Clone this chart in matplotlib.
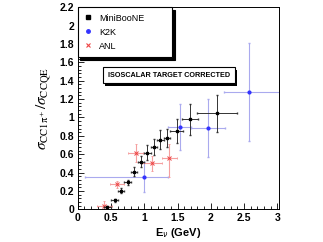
import numpy as np
import matplotlib
matplotlib.use('Agg')
import matplotlib.pyplot as plt
from matplotlib.patches import Rectangle
from matplotlib.lines import Line2D

# MiniBooNE
mb_x = [0.445, 0.555, 0.65, 0.75, 0.845, 0.95, 1.045, 1.145, 1.24, 1.34, 1.485, 1.685, 2.09]
mb_y = [0.03, 0.098, 0.203, 0.294, 0.41, 0.52, 0.617, 0.68, 0.76, 0.78, 0.853, 0.98, 1.045]
mb_xerr = [0.05, 0.05, 0.05, 0.05, 0.05, 0.05, 0.05, 0.05, 0.05, 0.05, 0.1, 0.125, 0.3]
mb_yerr = [0.01, 0.015, 0.025, 0.03, 0.05, 0.06, 0.08, 0.09, 0.1, 0.1, 0.13, 0.17, 0.2]

# K2K
k2k_x = [0.995, 1.53, 1.955, 2.575]
k2k_y = [0.352, 0.90, 0.886, 1.278]
k2k_xlo = [0.885, 0.18, 0.255, 0.375]
k2k_xhi = [0.355, 0.17, 0.255, 0.5]
k2k_yerr = [0.16, 0.25, 0.32, 0.53]

# ANL
anl_x = [0.40, 0.595, 0.87, 1.115, 1.375]
anl_y = [0.036, 0.272, 0.61, 0.50, 0.56]
anl_xerr = [0.11, 0.105, 0.11, 0.15, 0.11]
anl_ylo = [0.05, 0.04, 0.1, 0.08, 0.21]
anl_yhi = [0.05, 0.04, 0.1, 0.08, 0.15]

plt.rcParams['font.family'] = ['Liberation Sans', 'DejaVu Sans']

fig = plt.figure(figsize=(3.23, 2.42), dpi=100)
ax = fig.add_axes([0.2406, 0.135, 0.6232, 0.835])

ax.errorbar(k2k_x, k2k_y, xerr=[k2k_xlo, k2k_xhi], yerr=k2k_yerr, fmt='o',
            color='#3333ff', ecolor='#aaaaee', elinewidth=0.8, capsize=1.0,
            markersize=2.0, zorder=2)
ax.errorbar(anl_x, anl_y, xerr=anl_xerr, yerr=[anl_ylo, anl_yhi], fmt='x',
            color='#ee4444', ecolor='#f5a0a0', elinewidth=0.8, capsize=1.0,
            markersize=2.5, markeredgewidth=0.7, zorder=3)
ax.errorbar(mb_x, mb_y, xerr=mb_xerr, yerr=mb_yerr, fmt='s',
            color='black', ecolor='#333333', elinewidth=0.7, capsize=1.0,
            markersize=2.0, zorder=4)

ax.set_xlim(0, 3.025)
ax.set_ylim(0, 2.2)
ax.set_xticks(np.arange(0, 3.01, 0.5))
ax.set_xticklabels(['0', '0.5', '1', '1.5', '2', '2.5', '3'])
ax.set_xticks(np.arange(0, 3.01, 0.1), minor=True)
ax.set_yticks(np.arange(0, 2.21, 0.2))
ax.set_yticklabels(['0', '0.2', '0.4', '0.6', '0.8', '1', '1.2', '1.4', '1.6', '1.8', '2', '2.2'])
ax.set_yticks(np.arange(0, 2.21, 0.04), minor=True)
ax.tick_params(which='both', direction='in', top=False, right=False,
               labelsize=7.5, width=0.6, pad=2.5)
ax.tick_params(which='major', length=4)
ax.tick_params(which='minor', length=2)
for lab in ax.get_xticklabels() + ax.get_yticklabels():
    lab.set_fontweight('bold')
for s in ax.spines.values():
    s.set_linewidth(0.7)

ax.set_xlabel(r'E$_\nu$ (GeV)', fontsize=8, fontweight='bold', labelpad=2)
ax.set_ylabel(r'$\sigma_{\mathrm{CC1\pi^+}}/\sigma_{\mathrm{CCQE}}$', fontsize=11,
              math_fontfamily='stix', labelpad=4)

handles = [Line2D([], [], ls='none', marker='s', color='black', markersize=2.5),
           Line2D([], [], ls='none', marker='o', color='#3333ff', markersize=2.5),
           Line2D([], [], ls='none', marker='x', color='#ee4444', markersize=3,
                  markeredgewidth=0.8)]
leg = ax.legend(handles, ['MiniBooNE', 'K2K', 'ANL'], loc='upper left',
                bbox_to_anchor=(0.0, 0.78, 0.468, 0.22), mode='expand',
                fontsize=6.5, frameon=True, fancybox=False,
                edgecolor='black', framealpha=1, borderpad=0.7, labelspacing=0.55,
                handlelength=0.8, handletextpad=0.9, borderaxespad=0,
                shadow={'color': 'black', 'alpha': 1})
leg.get_frame().set_linewidth(0.8)

# text box with shadow
bx0, bx1, by0, by1 = 0.126, 0.781, 0.625, 0.704
ax.add_patch(Rectangle((bx0 + 0.012, by0 - 0.014), bx1 - bx0, by1 - by0,
                       transform=ax.transAxes, facecolor='black', edgecolor='none', zorder=5))
ax.add_patch(Rectangle((bx0, by0), bx1 - bx0, by1 - by0, transform=ax.transAxes,
                       facecolor='white', edgecolor='black', linewidth=0.8, zorder=6))
ax.text((bx0 + bx1) / 2, (by0 + by1) / 2, 'ISOSCALAR TARGET CORRECTED',
        transform=ax.transAxes, ha='center', va='center', fontsize=5.2,
        fontweight='bold', zorder=7)

fig.savefig('out.png', dpi=100)
